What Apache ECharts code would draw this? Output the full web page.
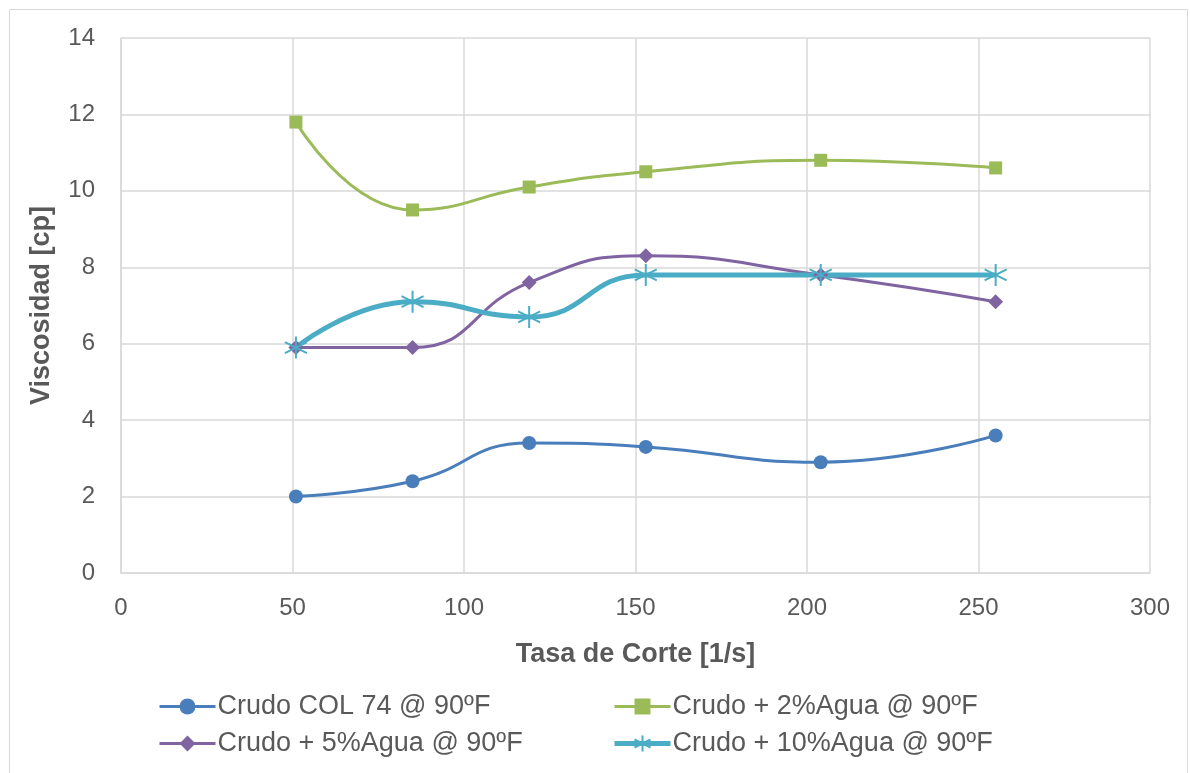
<!DOCTYPE html>
<html><head><meta charset="utf-8">
<script src="https://cdn.jsdelivr.net/npm/echarts@6/dist/echarts.min.js"></script>
<style>html,body{margin:0;padding:0;background:#fff}#c{width:1190px;height:773px}</style>
</head><body><div id="c"></div>
<script>
const shearRate = [51, 85, 119, 153, 204, 255];
const crudoCol74 = [2.0, 2.4, 3.4, 3.3, 2.9, 3.6];
const agua2 = [11.8, 9.5, 10.1, 10.5, 10.8, 10.6];
const agua5 = [5.9, 5.9, 7.6, 8.3, 7.8, 7.1];
const agua10 = [5.9, 7.1, 6.7, 7.8, 7.8, 7.8];
const seriesNames = ['Crudo COL 74 @ 90ºF', 'Crudo + 2%Agua @ 90ºF', 'Crudo + 5%Agua @ 90ºF', 'Crudo + 10%Agua @ 90ºF'];
const xTitle = 'Tasa de Corte [1/s]';
const yTitle = 'Viscosidad [cp]';

const FONT = "'Liberation Sans',sans-serif";
const pair = (ys) => shearRate.map((x, i) => [x, ys[i]]);
const star = 'path://M10,0L10,20M1.34,5L18.66,15M1.34,15L18.66,5';
const legendText = {fontFamily: FONT, fontSize: 27, color: '#595959', padding: [0, 0, 0, -3]};

const chart = echarts.init(document.getElementById('c'));
chart.setOption({
  animation: false,
  backgroundColor: '#fff',
  graphic: [{type: 'rect', shape: {x: 9.5, y: 9.5, width: 1178, height: 780}, style: {fill: 'none', stroke: '#d9d9d9', lineWidth: 1}, silent: true}],
  grid: {left: 121, right: 40, top: 38, bottom: 200},
  xAxis: {
    type: 'value', min: 0, max: 300, interval: 50,
    name: xTitle, nameLocation: 'middle', nameGap: 68,
    nameTextStyle: {fontFamily: FONT, fontSize: 27, fontWeight: 'bold', color: '#595959'},
    axisLine: {show: true, lineStyle: {color: '#d9d9d9', width: 1.5}},
    axisTick: {show: false},
    axisLabel: {fontFamily: FONT, fontSize: 24, color: '#595959', margin: 23},
    splitLine: {show: true, lineStyle: {color: '#d9d9d9', width: 1.5}}
  },
  yAxis: {
    type: 'value', min: 0, max: 14, interval: 2,
    name: yTitle, nameLocation: 'middle', nameGap: 66,
    nameTextStyle: {fontFamily: FONT, fontSize: 27, fontWeight: 'bold', color: '#595959'},
    axisLine: {show: true, lineStyle: {color: '#d9d9d9', width: 1.5}},
    axisTick: {show: false},
    axisLabel: {fontFamily: FONT, fontSize: 24, color: '#595959', margin: 26},
    splitLine: {show: true, lineStyle: {color: '#d9d9d9', width: 1.5}}
  },
  legend: [
    {data: [{name: seriesNames[0], lineStyle: {width: 3}}, {name: seriesNames[2], lineStyle: {width: 3}}],
     orient: 'vertical', left: 158, top: 693, padding: 0, itemWidth: 56, itemHeight: 20, itemGap: 10, textStyle: legendText},
    {data: [{name: seriesNames[1], lineStyle: {width: 3}}, {name: seriesNames[3], lineStyle: {width: 5}}],
     orient: 'vertical', left: 612, top: 693, padding: 0, itemWidth: 56, itemHeight: 20, itemGap: 10, textStyle: legendText}
  ],
  series: [
    {name: seriesNames[0], type: 'line', data: pair(crudoCol74), smooth: 0.5, symbol: 'circle', symbolSize: 14,
     lineStyle: {color: '#4a7ebb', width: 3}, itemStyle: {color: '#4a7ebb'}},
    {name: seriesNames[1], type: 'line', data: pair(agua2), smooth: 0.5, symbol: 'rect', symbolSize: 13,
     lineStyle: {color: '#9bbb59', width: 3}, itemStyle: {color: '#9bbb59'}},
    {name: seriesNames[2], type: 'line', data: pair(agua5), smooth: 0.5, symbol: 'diamond', symbolSize: 15,
     lineStyle: {color: '#8064a2', width: 3}, itemStyle: {color: '#8064a2'}},
    {name: seriesNames[3], type: 'line', data: pair(agua10), smooth: 0.5, symbol: star, symbolSize: 22,
     lineStyle: {color: '#4bacc6', width: 5}, itemStyle: {color: 'none', borderColor: '#4bacc6', borderWidth: 2}}
  ]
});
</script></body></html>
